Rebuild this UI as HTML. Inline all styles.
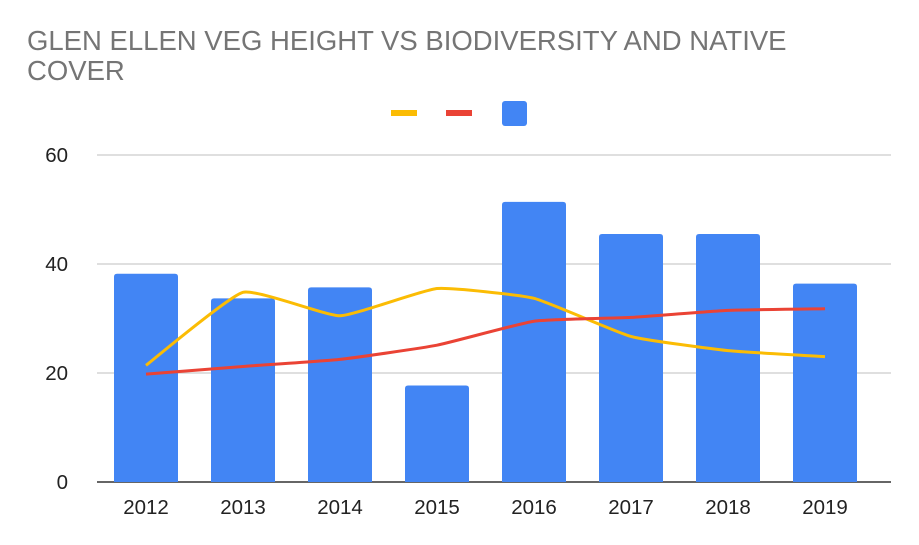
<!DOCTYPE html>
<html><head><meta charset="utf-8"><style>
body{margin:0;background:#fff;}
svg{display:block;font-family:"Liberation Sans",Arial,sans-serif;}
</style></head><body>
<svg id="chart" width="919" height="545">
<text x="27" y="50" font-size="27.5" fill="#757575">GLEN ELLEN VEG HEIGHT VS BIODIVERSITY AND NATIVE</text>
<text x="27" y="80" font-size="27.5" fill="#757575">COVER</text>
<rect x="391" y="110" width="26" height="6" fill="#fbbc04"/>
<rect x="446" y="110" width="26" height="6" fill="#ea4335"/>
<rect x="502" y="101" width="25" height="25" rx="3" fill="#4285f4"/>
<g id="grid"></g><g id="bars"></g><g id="lines"></g><g id="labels"></g>
</svg>
<script>
const categories=["2012","2013","2014","2015","2016","2017","2018","2019"];
const barValues=[38.2,33.7,35.7,17.7,51.4,45.5,45.5,36.4];
const yellowValues=[21.4,34.8,30.5,35.5,33.7,26.7,24.1,23.0];
const redValues=[19.8,21.2,22.5,25.1,29.5,30.2,31.5,31.8];
const yTicks=[0,20,40,60];
const NS="http://www.w3.org/2000/svg";
const y0=482,y60=155;
function yScale(v){return y0-(v/60)*(y0-y60);}
function xScale(i){return 97.5+48.5+i*97;}
function mk(t,a,p){const e=document.createElementNS(NS,t);for(const k in a)e.setAttribute(k,a[k]);p.appendChild(e);return e;}
const grid=document.getElementById('grid'),bars=document.getElementById('bars'),lines=document.getElementById('lines'),labels=document.getElementById('labels');
yTicks.forEach(t=>{
  const y=yScale(t);
  if(t>0){const l=mk('line',{x1:97,x2:891,y1:y,y2:y,stroke:'#cccccc','stroke-width':1.3},grid);
  
  }
  const tx=mk('text',{x:68,y:y+7,'font-size':20.5,'text-anchor':'end',fill:'#222'},labels);
  tx.textContent=t;
  
  
});
barValues.forEach((v,i)=>{
  const x=xScale(i)-32,y=yScale(v);
  const p=mk('path',{d:`M${x},${y0}V${y+3}Q${x},${y} ${x+3},${y}H${x+61}Q${x+64},${y} ${x+64},${y+3}V${y0}Z`,fill:'#4285f4'},bars);
  
  
  const tx=mk('text',{x:xScale(i),y:514,'font-size':20.5,'text-anchor':'middle',fill:'#222'},labels);
  tx.textContent=categories[i];
  
  
});
const axis=mk('line',{x1:97,x2:891,y1:y0,y2:y0,stroke:'#333','stroke-width':1.5},grid);


function smooth(vals){
  const pts=vals.map((v,i)=>[xScale(i),yScale(v)]);
  let d=`M${pts[0][0]},${pts[0][1]}`;const t=0.07;
  for(let i=0;i<pts.length-1;i++){
    const p0=pts[Math.max(0,i-1)],p1=pts[i],p2=pts[i+1],p3=pts[Math.min(pts.length-1,i+2)];
    const c1=[p1[0]+(p2[0]-p0[0])*t,p1[1]+(p2[1]-p0[1])*t];
    const c2=[p2[0]-(p3[0]-p1[0])*t,p2[1]-(p3[1]-p1[1])*t];
    d+=`C${c1[0]},${c1[1]} ${c2[0]},${c2[1]} ${p2[0]},${p2[1]}`;
  }
  return d;
}
const yl=mk('path',{d:smooth(yellowValues),fill:'none',stroke:'#fbbc04','stroke-width':3},lines);


const rl=mk('path',{d:smooth(redValues),fill:'none',stroke:'#ea4335','stroke-width':3},lines);


</script>
</body></html>
